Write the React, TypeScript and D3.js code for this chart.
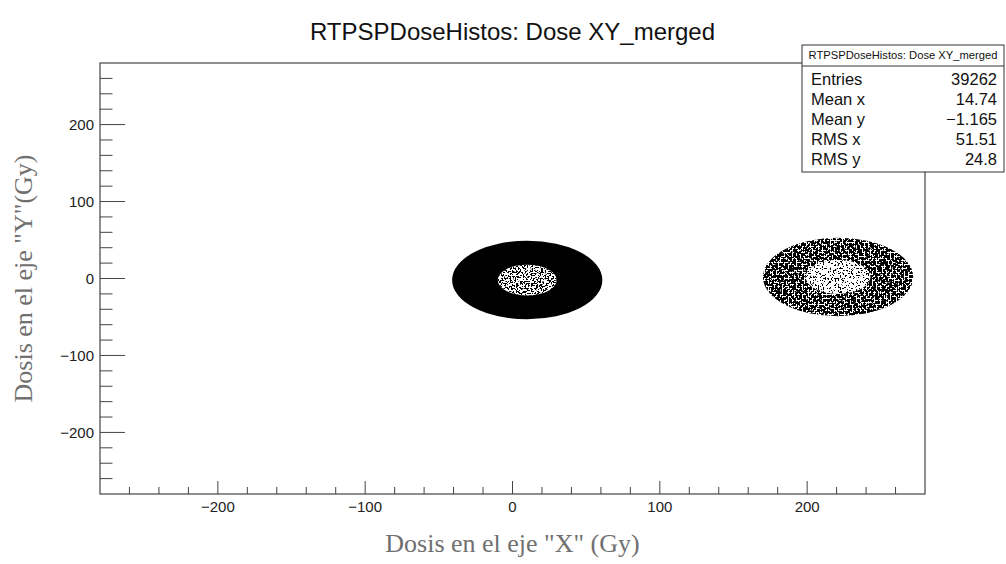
import React from "react";
import * as d3 from "d3";

// ---- data ----
const chartTitle = "RTPSPDoseHistos: Dose XY_merged";
const xLabel = 'Dosis en el eje "X" (Gy)';
const yLabel = 'Dosis en el eje "Y"(Gy)';
const xDomain = [-280, 280];
const yDomain = [-280, 280];
const majorTicks = [-200, -100, 0, 100, 200];
const minorStep = 20;

// two dose spots (ring shaped) of the scatter histogram
const spotCenterX = [10, 221];
const spotCenterY = [-2, 2];
const spotOuterR = [51, 51];
const spotInnerR = [20, 22];
const ringDensity = [1.0, 0.62];
const coreDensity = [0.42, 0.12];

const statLabels = ["Entries", "Mean x", "Mean y", "RMS x", "RMS y"];
const statValues = ["39262", "14.74", "\u22121.165", "51.51", "24.8"];

const W = 1006;
const H = 564;
const M = { left: 100, right: 925, top: 63, bottom: 494 };

function fmt(v: number) {
  return v < 0 ? "\u2212" + Math.abs(v) : String(v);
}

function ellipsePath(cx: number, cy: number, rx: number, ry: number) {
  return `M${cx - rx},${cy}A${rx},${ry} 0 1,0 ${cx + rx},${cy}A${rx},${ry} 0 1,0 ${cx - rx},${cy}Z`;
}

function threshold(d: number) {
  return 0.5 + 0.25 * (0.5 - d);
}

export default function App() {
  const x = d3.scaleLinear().domain(xDomain).range([M.left, M.right]);
  const y = d3.scaleLinear().domain(yDomain).range([M.bottom, M.top]);
  const minor = d3.range(xDomain[0] + minorStep, xDomain[1], minorStep).filter((v) => !majorTicks.includes(v));
  const minorY = d3.range(yDomain[0] + minorStep, yDomain[1], minorStep).filter((v) => !majorTicks.includes(v));
  const k = 40;
  const axisColor = "#444";
  const sans = "'Liberation Sans', Arial, Helvetica, sans-serif";
  const serif = "'Liberation Serif', 'Times New Roman', serif";

  const filters: { id: string; t: number; seed: number; f: number }[] = [];
  spotCenterX.forEach((_, i) => {
    filters.push({ id: `ring${i}`, t: threshold(ringDensity[i]), seed: 3 + i, f: 0.5 });
    filters.push({ id: `core${i}`, t: threshold(coreDensity[i]), seed: 7 + i, f: 0.6 });
  });

  const statTop = 45;
  const statSep = 66;
  const rowH = 20;
  const statBottom = statSep + rowH * statLabels.length + 6;

  return (
    <svg width={W} height={H} style={{ position: "absolute", left: 0, top: 0, background: "#fff" }}>
      <defs>
        {filters.map((f) => (
          <filter key={f.id} id={f.id} x="-5%" y="-5%" width="110%" height="110%" colorInterpolationFilters="sRGB">
            <feTurbulence type="fractalNoise" baseFrequency={f.f} numOctaves={2} seed={f.seed} result="n" />
            <feColorMatrix
              in="n"
              type="matrix"
              values={`0 0 0 0 0  0 0 0 0 0  0 0 0 0 0  ${k} 0 0 0 ${-k * f.t}`}
              result="m"
            />
            <feComposite in="SourceGraphic" in2="m" operator="in" />
          </filter>
        ))}
      </defs>

      {/* title */}
      <text x={(M.left + M.right) / 2} y={40} textAnchor="middle" fontFamily={sans} fontSize={24} fill="#111">
        {chartTitle}
      </text>

      {/* scatter spots */}
      {spotCenterX.map((cx, i) => {
        const px = x(cx);
        const py = y(spotCenterY[i]);
        const rxO = x(cx + spotOuterR[i]) - px;
        const ryO = py - y(spotCenterY[i] + spotOuterR[i]);
        const rxI = x(cx + spotInnerR[i]) - px;
        const ryI = py - y(spotCenterY[i] + spotInnerR[i]);
        const ring = ellipsePath(px, py, rxO, ryO) + ellipsePath(px, py, rxI, ryI);
        return (
          <g key={i}>
            <path
              d={ring}
              fillRule="evenodd"
              fill="#000"
              filter={ringDensity[i] < 1 ? `url(#ring${i})` : undefined}
            />
            <path d={ellipsePath(px, py, rxI, ryI)} fill="#000" filter={`url(#core${i})`} />
          </g>
        );
      })}

      {/* frame */}
      <rect
        x={M.left}
        y={M.top}
        width={M.right - M.left}
        height={M.bottom - M.top}
        fill="none"
        stroke={axisColor}
        strokeWidth={1.2}
      />

      {/* x axis ticks */}
      {majorTicks.map((v) => (
        <g key={"xm" + v}>
          <line x1={x(v)} x2={x(v)} y1={M.bottom} y2={M.bottom - 13} stroke={axisColor} />
          <text x={x(v)} y={512} textAnchor="middle" fontFamily={sans} fontSize={15} fill="#222">
            {fmt(v)}
          </text>
        </g>
      ))}
      {minor.map((v) => (
        <line key={"xn" + v} x1={x(v)} x2={x(v)} y1={M.bottom} y2={M.bottom - 7} stroke={axisColor} />
      ))}

      {/* y axis ticks */}
      {majorTicks.map((v) => (
        <g key={"ym" + v}>
          <line x1={M.left} x2={M.left + 25} y1={y(v)} y2={y(v)} stroke={axisColor} />
          <text x={94} y={y(v) + 5.5} textAnchor="end" fontFamily={sans} fontSize={15} fill="#222">
            {fmt(v)}
          </text>
        </g>
      ))}
      {minorY.map((v) => (
        <line key={"yn" + v} x1={M.left} x2={M.left + 12.5} y1={y(v)} y2={y(v)} stroke={axisColor} />
      ))}

      {/* axis labels */}
      <text x={(M.left + M.right) / 2} y={552} textAnchor="middle" fontFamily={serif} fontSize={26} fill="#707070">
        {xLabel}
      </text>
      <text
        transform={`translate(32,${(M.top + M.bottom) / 2}) rotate(-90)`}
        textAnchor="middle"
        fontFamily={serif}
        fontSize={26}
        fill="#707070"
      >
        {yLabel}
      </text>

      {/* stats box */}
      <rect x={802} y={statTop} width={202} height={statBottom - statTop} fill="#fff" stroke="#333" strokeWidth={1} />
      <line x1={802} x2={1004} y1={statSep} y2={statSep} stroke="#333" />
      <text x={903} y={59} textAnchor="middle" fontFamily={sans} fontSize={11.2} fill="#111">
        {chartTitle}
      </text>
      {statLabels.map((l, i) => (
        <g key={l}>
          <text x={811} y={statSep + 19 + i * rowH} fontFamily={sans} fontSize={16.5} fill="#111">
            {l}
          </text>
          <text x={997} y={statSep + 19 + i * rowH} textAnchor="end" fontFamily={sans} fontSize={16.5} fill="#111">
            {statValues[i]}
          </text>
        </g>
      ))}
    </svg>
  );
}
